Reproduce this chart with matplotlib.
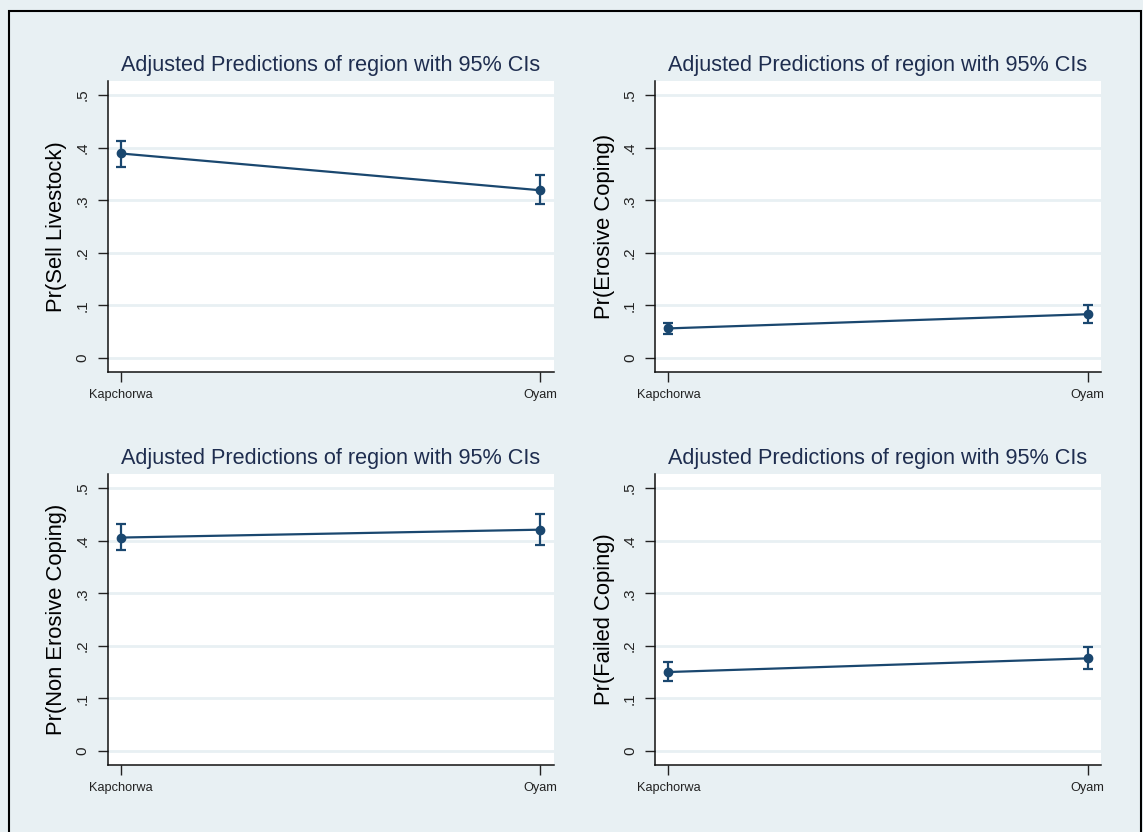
import matplotlib.pyplot as plt
from matplotlib.patches import Rectangle

plt.rcParams['font.family'] = ['Liberation Sans', 'DejaVu Sans']

regions = ["Kapchorwa", "Oyam"]
title = "Adjusted Predictions of region with 95% CIs"

# predicted margins with 95% CI bounds
sell = [0.389, 0.319]
sell_lo = [0.363, 0.292]
sell_hi = [0.413, 0.348]

erosive = [0.056, 0.083]
erosive_lo = [0.046, 0.067]
erosive_hi = [0.066, 0.100]

non_erosive = [0.406, 0.421]
non_erosive_lo = [0.382, 0.392]
non_erosive_hi = [0.431, 0.450]

failed = [0.150, 0.176]
failed_lo = [0.133, 0.155]
failed_hi = [0.169, 0.198]

yticks = [0, 0.1, 0.2, 0.3, 0.4, 0.5]
ytick_labels = ["0", ".1", ".2", ".3", ".4", ".5"]

bg = "#E8F0F3"
navy = "#1A476F"
title_col = "#1E2D4F"

W, H = 1143, 832
fig = plt.figure(figsize=(W / 100, H / 100), dpi=100)
fig.patch.set_facecolor(bg)

# outer frame (bottom edge runs off the canvas)
fig.patches.append(Rectangle((9 / W, -4 / H), (1141 - 9) / W, (H - 11 + 4) / H,
                             transform=fig.transFigure, fill=False,
                             edgecolor="black", linewidth=1.5))

panels = [
    (107.5, 81, sell, sell_lo, sell_hi, "Pr(Sell Livestock)"),
    (655, 81, erosive, erosive_lo, erosive_hi, "Pr(Erosive Coping)"),
    (107.5, 474, non_erosive, non_erosive_lo, non_erosive_hi, "Pr(Non Erosive Coping)"),
    (655, 474, failed, failed_lo, failed_hi, "Pr(Failed Coping)"),
]

for left, top, mid, lo, hi, ylab in panels:
    ax = fig.add_axes([left / W, (H - top - 291) / H, 446 / W, 291 / H])
    ax.set_facecolor("white")
    x = list(range(len(regions)))
    err = [[m - l for m, l in zip(mid, lo)], [h - m for m, h in zip(mid, hi)]]
    ax.errorbar(x, mid, yerr=err, color=navy, linewidth=1.6, elinewidth=1.6,
                capsize=3.6, capthick=1.6, marker="o", markersize=6, zorder=3)
    ax.set_xlim(-0.032, 1.032)
    ax.set_ylim(-0.027, 0.527)
    ax.set_yticks(yticks)
    ax.set_yticklabels(ytick_labels, rotation=90, va="center", fontsize=11)
    ax.set_xticks(x)
    ax.set_xticklabels(regions, fontsize=9.2, color="#222222")
    ax.grid(axis="y", color=bg, linewidth=2)
    ax.set_axisbelow(True)
    for s in ["top", "right"]:
        ax.spines[s].set_visible(False)
    for s in ["left", "bottom"]:
        ax.spines[s].set_color("#111111")
        ax.spines[s].set_linewidth(1.1)
    ax.tick_params(axis="y", length=7, width=1, pad=6, colors="#222222")
    ax.tick_params(axis="x", length=7, width=1, pad=5, colors="#222222")
    ax.set_ylabel(ylab, fontsize=15.8, labelpad=6)
    ax.set_title(title, fontsize=15.6, color=title_col, pad=7)

fig.savefig("out.png", dpi=100, facecolor=bg)
